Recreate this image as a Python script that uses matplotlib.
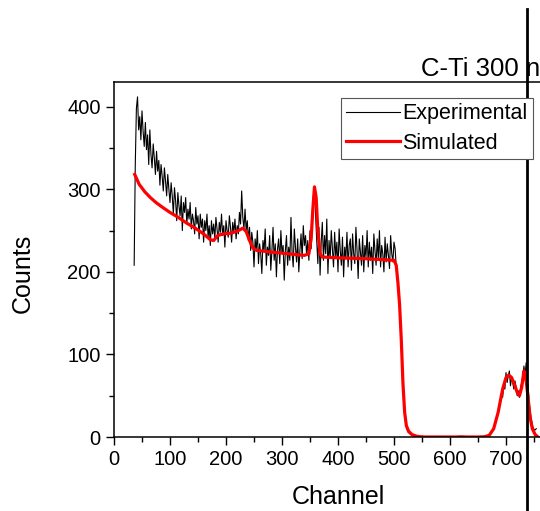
import numpy as np
import matplotlib
matplotlib.use("Agg")
import matplotlib.pyplot as plt
from matplotlib.lines import Line2D

plt.rcParams["font.family"] = ["Liberation Sans", "DejaVu Sans"]

# experimental spectrum, every 2 channels starting at channel 36
exp_start = 36
exp_step = 2
exp_counts = [
    208, 330, 398, 412, 372, 388, 360, 395, 370, 352,
    381, 348, 366, 330, 372, 342, 326, 355, 338, 318,
    346, 322, 335, 305, 330, 316, 298, 326, 310, 292,
    318, 300, 284, 308, 292, 270, 302, 286, 262, 296,
    280, 268, 292, 250, 284, 272, 290, 258, 276, 264,
    284, 252, 270, 262, 246, 278, 258, 268, 240, 270,
    254, 264, 236, 262, 250, 270, 242, 256, 232, 262,
    246, 258, 240, 266, 252, 236, 260, 248, 270, 244,
    256, 230, 262, 250, 242, 268, 254, 236, 260, 248,
    264, 240, 256, 246, 272, 258, 298, 266, 252, 276,
    250, 262, 238, 254, 226, 248, 236, 206, 240, 226,
    250, 210, 234, 222, 198, 238, 226, 252, 208, 230,
    220, 244, 202, 226, 254, 214, 234, 194, 228, 240,
    210, 250, 222, 232, 190, 226, 244, 208, 230, 214,
    266, 224, 206, 252, 230, 212, 240, 200, 226, 246,
    216, 256, 232, 244, 220, 238, 214, 250, 228, 256,
    292, 300, 268, 238, 210, 254, 196, 236, 260, 214,
    244, 222, 264, 198, 238, 216, 250, 228, 206, 248,
    218, 236, 200, 252, 226, 208, 242, 194, 230, 216,
    248, 206, 232, 240, 202, 246, 222, 210, 254, 226,
    192, 240, 224, 208, 244, 200, 232, 218, 250, 206,
    236, 214, 230, 198, 246, 226, 208, 240, 216, 250,
    206, 232, 222, 200, 242, 212, 234, 220, 204, 244,
    222, 212, 236, 228, 206,
]
# edge fall-off and Ti peak region
tail_channel = [507, 510, 513, 516, 519, 522, 525, 530, 535, 540, 550, 560, 580,
                600, 620, 640, 660, 670, 676, 680, 684, 687, 690, 692, 694, 696,
                698, 700, 702, 704, 706, 708, 710, 712, 714, 716, 718, 720, 722,
                724, 726, 728, 730, 732, 734, 736, 738, 740, 742, 745, 748, 751, 754]
tail_counts = [190, 160, 112, 62, 28, 12, 6, 3, 1, 0, 1, 0, 0,
               0, 1, 0, 1, 2, 8, 14, 24, 34, 42, 52, 48, 62,
               58, 78, 66, 74, 80, 62, 72, 66, 58, 68, 60, 50, 56,
               48, 60, 66, 72, 86, 74, 90, 70, 56, 38, 22, 12, 8, 10]

sim_channel = [37, 45, 55, 65, 75, 85, 100, 115, 130, 145, 160, 172, 178, 185,
               195, 210, 222, 230, 236, 242, 248, 255, 280, 310, 340, 348, 352,
               355, 358, 361, 364, 368, 372, 400, 450, 500, 504, 507, 510, 513,
               516, 519, 522, 526, 532, 540, 550, 660, 670, 678, 686, 694, 700,
               705, 710, 716, 720, 724, 728, 732, 735, 739, 743, 747, 752, 757]
sim_counts = [318, 306, 297, 290, 284, 279, 272, 266, 259, 253, 246, 239, 238, 244,
              246, 247, 250, 253, 249, 238, 229, 226, 224, 222, 220, 222, 240,
              275, 303, 290, 250, 222, 218, 217, 216, 214, 208, 187, 160, 118,
              65, 30, 14, 7, 3, 1, 0, 0, 2, 10, 30, 58, 72,
              75, 72, 62, 54, 50, 60, 80, 74, 50, 24, 10, 3, 0]

exp_channel = list(np.arange(exp_start, exp_start + exp_step * len(exp_counts), exp_step)) + tail_channel
exp_all = exp_counts + tail_counts

W, H = 540, 511
fig = plt.figure(figsize=(W / 100, H / 100), dpi=100)
ax = fig.add_axes([114 / W, (H - 437) / H, 448 / W, 355 / H])

ax.plot(exp_channel, exp_all, color="black", lw=0.8)
ax.plot(sim_channel, sim_counts, color="red", lw=2.3)

ax.set_xlim(0, 800)
ax.set_ylim(0, 430)
ax.set_xticks(range(0, 801, 100))
ax.set_xticks(range(50, 801, 100), minor=True)
ax.set_yticks(range(0, 401, 100))
ax.set_yticks(range(50, 401, 100), minor=True)
ax.tick_params(which="major", direction="out", length=6, width=1, labelsize=14.5)
ax.tick_params(which="minor", direction="out", length=3.5, width=1)
for s in ax.spines.values():
    s.set_linewidth(1.1)

fig.text(338 / W, 1 - 497 / H, "Channel", fontsize=18, ha="center", va="center")
fig.text(23 / W, 1 - 273 / H, "Counts", fontsize=18, ha="center", va="center", rotation=90)
fig.text(421 / W, 1 - 76 / H, "C-Ti 300 nm", fontsize=18.5, ha="left", va="baseline")

handles = [Line2D([], [], color="black", lw=0.8), Line2D([], [], color="red", lw=2.3)]
leg = fig.legend(handles, ["Experimental", "Simulated"], loc="upper left",
                 bbox_to_anchor=(341 / W, 1 - 98 / H), fontsize=15.5,
                 handlelength=2.5, handletextpad=0.1, borderpad=0.25,
                 labelspacing=0.4, fancybox=False, framealpha=1, borderaxespad=0)
leg.get_frame().set_edgecolor("#555555")
leg.get_frame().set_linewidth(0.8)

# vertical marker line across the figure
fig.add_artist(Line2D([527 / W, 527 / W], [0, 1 - 9 / H], transform=fig.transFigure,
                      color="black", lw=2))

fig.savefig("out.png", dpi=100)
